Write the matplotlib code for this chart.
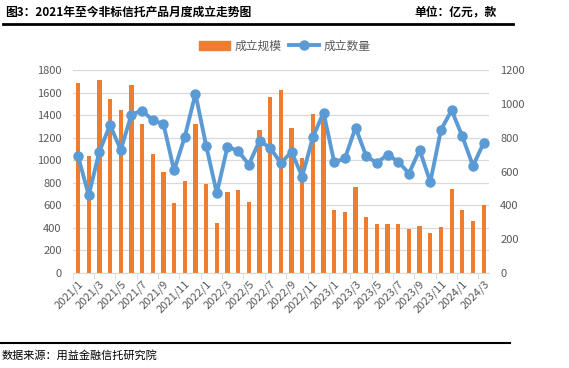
import matplotlib
matplotlib.use("Agg")
import matplotlib.pyplot as plt
from matplotlib.lines import Line2D

plt.rcParams['font.family'] = ['Noto Sans CJK SC', 'DejaVu Sans']

months = []
for y, last in [(2021, 12), (2022, 12), (2023, 12), (2024, 3)]:
    for m in range(1, last + 1):
        months.append(f"{y}/{m}")

# 成立规模 (亿元)
scale = [1685, 1040, 1710, 1543, 1446, 1667, 1322, 1056, 897, 623, 817, 1322,
         791, 446, 720, 738, 631, 1269, 1561, 1623, 1287, 1021, 1410, 1400,
         561, 543, 764, 499, 437, 437, 437, 392, 419, 357, 410, 747,
         561, 463, 605]
# 成立数量 (款)
count = [690, 460, 718, 875, 728, 936, 960, 903, 881, 606, 805, 1060,
         753, 472, 746, 722, 641, 781, 740, 649, 716, 570, 803, 948,
         655, 677, 860, 690, 651, 700, 659, 588, 728, 537, 846, 962,
         808, 633, 769]

orange = '#ED7D31'
blue = '#5B9BD5'
grey = '#595959'

fig = plt.figure(figsize=(5.69, 3.68), dpi=100)
W, H = 569, 368

ax = fig.add_axes([72.7 / W, (H - 273) / H, (489 - 72.7) / W, 203 / H])
x = list(range(len(months)))
ax.bar(x, scale, width=0.4, color=orange, zorder=2)
ax.set_ylim(0, 1800)
ax.set_yticks(range(0, 1801, 200))
ax.set_xlim(-0.5, len(months) - 0.5)
ax.grid(axis='y', color='#D9D9D9', linewidth=0.9, zorder=0)
ax.set_axisbelow(True)
for s in ['top', 'right', 'left']:
    ax.spines[s].set_visible(False)
ax.spines['bottom'].set_color('#D9D9D9')
ax.tick_params(axis='y', length=0, labelsize=8, labelcolor=grey, pad=8)

ax.set_xticks(x[::2])
ax.set_xticklabels(months[::2], rotation=45, ha='right', rotation_mode='anchor',
                   fontsize=8, color=grey)
ax.set_xticks([i - 0.5 for i in range(0, len(months) + 1, 2)], minor=True)
ax.tick_params(axis='x', which='major', length=0, pad=4)
ax.tick_params(axis='x', which='minor', length=4, color='#D9D9D9')

ax2 = ax.twinx()
ax2.plot(x, count, color=blue, linewidth=2.8, marker='o', markersize=6.5, zorder=3)
ax2.set_ylim(0, 1200)
ax2.set_yticks(range(0, 1201, 200))
for s in ['top', 'right', 'left', 'bottom']:
    ax2.spines[s].set_visible(False)
ax2.tick_params(axis='y', length=0, labelsize=8, labelcolor=grey, pad=8)

handles = [plt.Rectangle((0, 0), 1, 1, color=orange),
           Line2D([0], [0], color=blue, linewidth=2.8, marker='o', markersize=6.5)]
fig.legend(handles, ['成立规模', '成立数量'], loc='center', bbox_to_anchor=(285 / W, 1 - 46 / H),
           ncol=2, frameon=False, fontsize=8.5, labelcolor=grey, handlelength=2.6,
           columnspacing=0.6, handletextpad=0.4)

# header and footer
fig.text(5 / W, 1 - 12 / H, '图3：2021年至今非标信托产品月度成立走势图', fontsize=8.5,
         fontweight='bold', va='center', ha='left')
fig.text(497 / W, 1 - 12 / H, '单位：亿元，款', fontsize=8.5, fontweight='bold',
         va='center', ha='right')
fig.add_artist(Line2D([3 / W, 513 / W], [1 - 23.5 / H, 1 - 23.5 / H], color='black', linewidth=2))
fig.add_artist(Line2D([0, 510 / W], [1 - 342.5 / H, 1 - 342.5 / H], color='black', linewidth=1.5))
fig.text(2 / W, 1 - 355 / H, '数据来源：用益金融信托研究院', fontsize=8, va='center', ha='left')

fig.savefig('out.png', dpi=100)
plt.close(fig)
